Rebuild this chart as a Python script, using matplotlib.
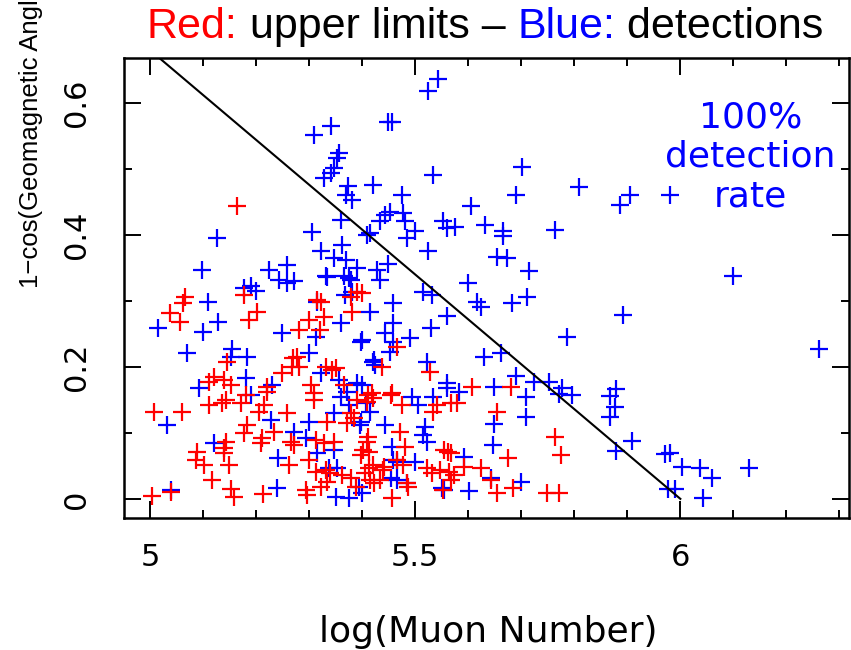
import numpy as np
import matplotlib
matplotlib.use("Agg")
import matplotlib.pyplot as plt
from matplotlib.ticker import MultipleLocator

# (log muon number, 1 - cos geomagnetic angle)
detections = [
    (5.342, 0.565), (5.309, 0.552), (5.357, 0.524), (5.353, 0.517), (5.347, 0.502),
    (5.341, 0.494), (5.328, 0.486), (5.374, 0.474), (5.370, 0.461), (5.381, 0.453),
    (5.421, 0.476), (5.360, 0.423), (5.306, 0.405), (5.410, 0.400), (5.126, 0.395),
    (5.098, 0.347), (5.362, 0.385), (5.323, 0.376), (5.347, 0.365), (5.370, 0.362),
    (5.390, 0.350), (5.332, 0.338), (5.366, 0.338), (5.379, 0.332), (5.225, 0.347),
    (5.258, 0.355), (5.243, 0.332), (5.272, 0.330), (5.191, 0.323), (5.543, 0.636),
    (5.525, 0.618), (5.449, 0.571), (5.457, 0.571), (5.534, 0.491), (5.702, 0.503),
    (5.809, 0.473), (5.475, 0.461), (5.690, 0.461), (5.606, 0.444), (5.453, 0.435),
    (5.443, 0.430), (5.434, 0.421), (5.478, 0.433), (5.481, 0.421), (5.553, 0.421),
    (5.560, 0.411), (5.575, 0.412), (5.500, 0.406), (5.485, 0.395), (5.632, 0.415),
    (5.666, 0.406), (5.666, 0.398), (5.764, 0.408), (5.415, 0.403), (5.525, 0.376),
    (5.655, 0.367), (5.673, 0.365), (5.428, 0.347), (5.449, 0.356), (5.434, 0.332),
    (5.715, 0.345), (5.600, 0.327), (5.887, 0.445), (5.906, 0.461), (5.981, 0.461),
    (6.100, 0.338), (5.892, 0.279), (6.262, 0.227), (5.879, 0.167), (5.868, 0.156),
    (5.877, 0.139), (5.868, 0.124), (5.909, 0.088), (5.879, 0.073), (5.972, 0.068),
    (5.981, 0.070), (6.004, 0.048), (6.038, 0.047), (6.060, 0.032), (6.130, 0.047),
    (5.977, 0.015), (5.989, 0.015), (6.042, 0.002), (5.617, 0.298), (5.625, 0.291),
    (5.683, 0.297), (5.711, 0.306), (5.560, 0.277), (5.787, 0.246), (5.630, 0.215),
    (5.662, 0.221), (5.690, 0.186), (5.725, 0.177), (5.753, 0.177), (5.709, 0.155),
    (5.777, 0.168), (5.772, 0.159), (5.796, 0.158), (5.560, 0.176), (5.560, 0.168),
    (5.583, 0.162), (5.649, 0.170), (5.709, 0.124), (5.649, 0.114), (5.647, 0.082),
    (5.592, 0.064), (5.643, 0.032), (5.700, 0.026), (5.602, 0.012), (5.555, 0.014),
    (5.515, 0.314), (5.532, 0.309), (5.459, 0.297), (5.415, 0.283), (5.459, 0.267),
    (5.443, 0.251), (5.530, 0.259), (5.491, 0.244), (5.459, 0.238), (5.400, 0.241),
    (5.453, 0.223), (5.421, 0.208), (5.425, 0.203), (5.522, 0.208), (5.400, 0.173),
    (5.494, 0.155), (5.506, 0.142), (5.534, 0.155), (5.415, 0.132), (5.396, 0.112),
    (5.443, 0.112), (5.519, 0.109), (5.515, 0.097), (5.522, 0.086), (5.457, 0.079),
    (5.459, 0.059), (5.500, 0.056), (5.400, 0.009), (5.466, 0.029), (5.485, 0.024),
    (5.200, 0.315), (5.177, 0.320), (5.258, 0.327), (5.109, 0.298), (5.015, 0.259),
    (5.128, 0.268), (5.100, 0.253), (5.249, 0.251), (5.070, 0.221), (5.155, 0.227),
    (5.153, 0.215), (5.183, 0.215), (5.181, 0.183), (5.092, 0.168), (5.230, 0.173),
    (5.191, 0.158), (5.032, 0.112), (5.121, 0.085), (5.228, 0.120), (5.242, 0.062),
    (5.240, 0.017), (5.040, 0.014), (5.334, 0.336), (5.375, 0.335), (5.315, 0.298),
    (5.368, 0.309), (5.380, 0.313), (5.360, 0.267), (5.313, 0.246), (5.398, 0.238),
    (5.300, 0.221), (5.423, 0.211), (5.323, 0.191), (5.357, 0.180), (5.391, 0.176),
    (5.372, 0.162), (5.360, 0.155), (5.375, 0.142), (5.347, 0.130), (5.408, 0.145),
    (5.300, 0.117), (5.272, 0.102), (5.294, 0.092), (5.398, 0.117), (5.315, 0.070),
    (5.347, 0.074), (5.338, 0.047), (5.353, 0.047), (5.466, 0.056), (5.394, 0.018),
    (5.351, 0.003), (5.375, 0.002), (5.455, 0.032), (5.551, 0.017),
]

upper_limits = [
    (5.164, 0.444), (5.608, 0.170), (5.681, 0.170), (5.568, 0.145), (5.579, 0.145),
    (5.655, 0.132), (5.764, 0.094), (5.775, 0.067), (5.675, 0.062), (5.555, 0.074),
    (5.568, 0.070), (5.564, 0.041), (5.574, 0.036), (5.592, 0.048), (5.625, 0.047),
    (5.643, 0.029), (5.685, 0.017), (5.655, 0.009), (5.749, 0.009), (5.772, 0.009),
    (5.400, 0.312), (5.466, 0.230), (5.438, 0.200), (5.528, 0.192), (5.421, 0.153),
    (5.409, 0.147), (5.457, 0.161), (5.475, 0.142), (5.542, 0.142), (5.534, 0.132),
    (5.411, 0.094), (5.472, 0.101), (5.481, 0.079), (5.402, 0.074), (5.532, 0.039),
    (5.522, 0.047), (5.421, 0.052), (5.440, 0.044), (5.477, 0.052), (5.487, 0.018),
    (5.457, 0.002), (5.415, 0.029), (5.434, 0.029), (5.406, 0.039), (5.553, 0.014),
    (5.066, 0.306), (5.062, 0.297), (5.038, 0.282), (5.057, 0.268), (5.177, 0.309),
    (5.202, 0.283), (5.187, 0.271), (5.145, 0.208), (5.121, 0.185), (5.111, 0.177),
    (5.140, 0.180), (5.153, 0.173), (5.249, 0.191), (5.221, 0.170), (5.268, 0.200),
    (5.181, 0.158), (5.008, 0.132), (5.060, 0.132), (5.111, 0.142), (5.136, 0.145),
    (5.143, 0.150), (5.172, 0.145), (5.206, 0.132), (5.215, 0.142), (5.221, 0.162),
    (5.183, 0.112), (5.177, 0.100), (5.211, 0.092), (5.209, 0.085), (5.234, 0.101),
    (5.143, 0.086), (5.140, 0.077), (5.140, 0.070), (5.089, 0.071), (5.087, 0.059),
    (5.102, 0.052), (5.149, 0.052), (5.117, 0.029), (5.153, 0.015), (5.158, 0.003),
    (5.004, 0.005), (5.040, 0.011), (5.213, 0.008), (5.258, 0.130), (5.262, 0.052),
    (5.266, 0.086), (5.315, 0.302), (5.323, 0.298), (5.379, 0.306), (5.391, 0.314),
    (5.381, 0.283), (5.328, 0.276), (5.300, 0.271), (5.281, 0.256), (5.321, 0.256),
    (5.277, 0.215), (5.270, 0.213), (5.281, 0.200), (5.332, 0.200), (5.351, 0.198),
    (5.343, 0.195), (5.304, 0.173), (5.366, 0.173), (5.455, 0.158), (5.411, 0.158),
    (5.309, 0.161), (5.309, 0.150), (5.391, 0.150), (5.379, 0.130), (5.419, 0.161),
    (5.334, 0.117), (5.372, 0.115), (5.385, 0.123), (5.272, 0.082), (5.313, 0.089),
    (5.328, 0.085), (5.347, 0.086), (5.409, 0.086), (5.398, 0.067), (5.413, 0.071),
    (5.300, 0.059), (5.313, 0.041), (5.332, 0.044), (5.340, 0.039), (5.362, 0.036),
    (5.379, 0.032), (5.334, 0.026), (5.323, 0.018), (5.294, 0.014), (5.296, 0.006),
    (5.389, 0.018), (5.413, 0.047), (5.423, 0.024), (5.442, 0.049), (5.466, 0.059),
    (5.485, 0.024), (5.547, 0.044), (5.568, 0.029), (5.562, 0.071),
]

# boundary of full detection efficiency
cut_x = [5.0, 6.0]
cut_y = [0.68, 0.0]

xticks = [5, 5.5, 6]
xticklabels = ["5", "5.5", "6"]
yticks = [0, 0.2, 0.4, 0.6]
yticklabels = ["0", "0.2", "0.4", "0.6"]

title_parts = [("Red:", "#ff0000"), (" upper limits \u2013 ", "black"),
               ("Blue:", "#0000ff"), (" detections", "black")]

det_x, det_y = np.array(detections).T
lim_x, lim_y = np.array(upper_limits).T

plt.rcParams["font.family"] = "DejaVu Sans"

fig = plt.figure(figsize=(8.51, 6.5), dpi=100)
ax = fig.add_axes([124 / 851, 1 - 518 / 650, 725 / 851, 460 / 650])

ax.plot(det_x, det_y, "+", color="#0000ff", ms=13, mew=1.6, ls="none")
ax.plot(lim_x, lim_y, "+", color="#ff0000", ms=13, mew=1.6, ls="none")
ax.plot(cut_x, cut_y, color="black", lw=1.5)

ax.set_xlim(4.951, 6.318)
ax.set_ylim(-0.029, 0.668)

ax.set_xticks(xticks)
ax.set_xticklabels(xticklabels)
ax.set_yticks(yticks)
ax.set_yticklabels(yticklabels, rotation=90, va="center")
ax.xaxis.set_minor_locator(MultipleLocator(0.1))
ax.yaxis.set_minor_locator(MultipleLocator(0.1))
ax.tick_params(which="both", direction="in", top=True, right=True, width=1.4,
               labelsize=22)
ax.tick_params(which="major", length=12)
ax.tick_params(which="minor", length=6)
ax.tick_params(axis="x", pad=18)
ax.tick_params(axis="y", pad=24)
for s in ax.spines.values():
    s.set_linewidth(1.8)

ax.text(6.132, 0.518, "100%\ndetection\nrate", color="#0000ff", fontsize=26,
        ha="center", va="center", linespacing=1.22)

fig.text(488 / 851, 1 - 632 / 650, "log(Muon Number)", fontsize=26,
         ha="center", va="center")
fig.text(31 / 851, 1 - 288 / 650, "1\u2212cos(Geomagnetic Angle)", fontsize=18.5,
         family="Liberation Sans", rotation=90, ha="center", va="bottom")

# title in mixed colours, each piece placed after the previous one
tfont = dict(fontsize=31, family="Liberation Sans")
txt, col = title_parts[0]
t = fig.text(147 / 851, 1 - 38 / 650, txt, color=col, va="baseline", **tfont)
for txt, col in title_parts[1:]:
    t = ax.annotate(txt, xy=(1, 0), xycoords=t, ha="left", va="bottom",
                    color=col, annotation_clip=False, **tfont)

fig.savefig("out.png", dpi=100)
